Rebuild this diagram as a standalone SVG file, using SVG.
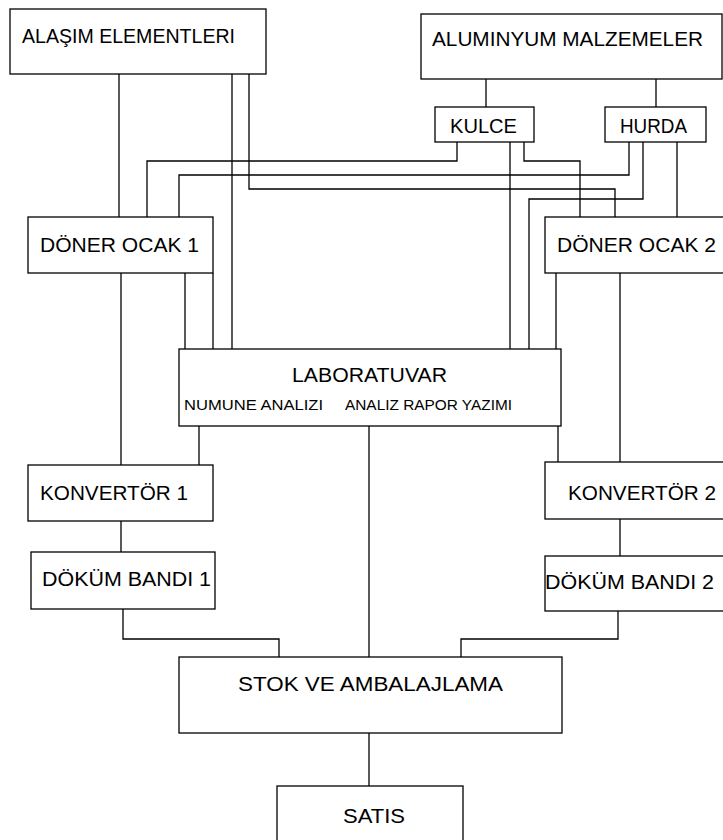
<svg xmlns="http://www.w3.org/2000/svg" width="723" height="840" viewBox="0 0 723 840">
<style>
.box{fill:#fff;stroke:#000;stroke-width:1.3}
.c{fill:none;stroke:#000;stroke-width:1.3}
text{font-family:"Liberation Sans",Arial,sans-serif;font-size:20px;fill:#000}
.s{font-size:15px}
</style>
<rect width="723" height="840" fill="#fff"/>
<g id="connectors">
<path class="c" d="M119,74V217"/>
<path class="c" d="M232,74V349"/>
<path class="c" d="M249,74V189H615V217"/>
<path class="c" d="M486,79V107"/>
<path class="c" d="M656,79V107"/>
<path class="c" d="M457,142V161H147V217"/>
<path class="c" d="M510,142V349"/>
<path class="c" d="M524,142V161H580V217"/>
<path class="c" d="M629,142V175H179V217"/>
<path class="c" d="M643,142V199H529V349"/>
<path class="c" d="M677,142V217"/>
<path class="c" d="M121,273V465"/>
<path class="c" d="M185,273V349"/>
<path class="c" d="M213,273V349"/>
<path class="c" d="M556,273V349"/>
<path class="c" d="M620,273V462"/>
<path class="c" d="M199,426V465"/>
<path class="c" d="M369,426V657"/>
<path class="c" d="M558,426V462"/>
<path class="c" d="M121,521V552"/>
<path class="c" d="M620,519V556"/>
<path class="c" d="M123,609V639H279V657"/>
<path class="c" d="M618,611V639H461V657"/>
<path class="c" d="M369,733V786"/>
</g>
<g id="alasim"><rect class="box" x="10" y="9" width="256" height="65"/><text x="22" y="43" textLength="213" lengthAdjust="spacingAndGlyphs">ALAŞIM ELEMENTLERI</text></g>
<g id="aluminyum"><rect class="box" x="421" y="14" width="301" height="65"/><text x="432" y="46" textLength="271" lengthAdjust="spacingAndGlyphs">ALUMINYUM MALZEMELER</text></g>
<g id="kulce"><rect class="box" x="435" y="107" width="99" height="35"/><text x="450" y="133" textLength="67" lengthAdjust="spacingAndGlyphs">KULCE</text></g>
<g id="hurda"><rect class="box" x="605" y="107" width="101" height="35"/><text x="620" y="133" textLength="67" lengthAdjust="spacingAndGlyphs">HURDA</text></g>
<g id="doner1"><rect class="box" x="28" y="217" width="185" height="56"/><text x="40" y="252" textLength="159" lengthAdjust="spacingAndGlyphs">DÖNER OCAK 1</text></g>
<g id="doner2"><rect class="box" x="545" y="217" width="185" height="56"/><text x="557" y="252" textLength="159" lengthAdjust="spacingAndGlyphs">DÖNER OCAK 2</text></g>
<g id="lab"><rect class="box" x="179" y="349" width="382" height="77"/><text x="292" y="382" textLength="155" lengthAdjust="spacingAndGlyphs">LABORATUVAR</text><text class="s" x="184" y="410" textLength="139" lengthAdjust="spacingAndGlyphs">NUMUNE ANALIZI</text><text class="s" x="345" y="410" textLength="167" lengthAdjust="spacingAndGlyphs">ANALIZ RAPOR YAZIMI</text></g>
<g id="konv1"><rect class="box" x="28" y="465" width="185" height="56"/><text x="40" y="500" textLength="148" lengthAdjust="spacingAndGlyphs">KONVERTÖR 1</text></g>
<g id="konv2"><rect class="box" x="545" y="462" width="185" height="57"/><text x="568" y="500" textLength="148" lengthAdjust="spacingAndGlyphs">KONVERTÖR 2</text></g>
<g id="dokum1"><rect class="box" x="31" y="552" width="184" height="57"/><text x="42" y="586" textLength="169" lengthAdjust="spacingAndGlyphs">DÖKÜM BANDI 1</text></g>
<g id="dokum2"><rect class="box" x="545" y="556" width="185" height="55"/><text x="545" y="589" textLength="169" lengthAdjust="spacingAndGlyphs">DÖKÜM BANDI 2</text></g>
<g id="stok"><rect class="box" x="179" y="657" width="383" height="76"/><text x="238" y="691" textLength="265" lengthAdjust="spacingAndGlyphs">STOK VE AMBALAJLAMA</text></g>
<g id="satis"><rect class="box" x="277" y="786" width="186" height="60"/><text x="343" y="823" textLength="62" lengthAdjust="spacingAndGlyphs">SATIS</text></g>
</svg>
